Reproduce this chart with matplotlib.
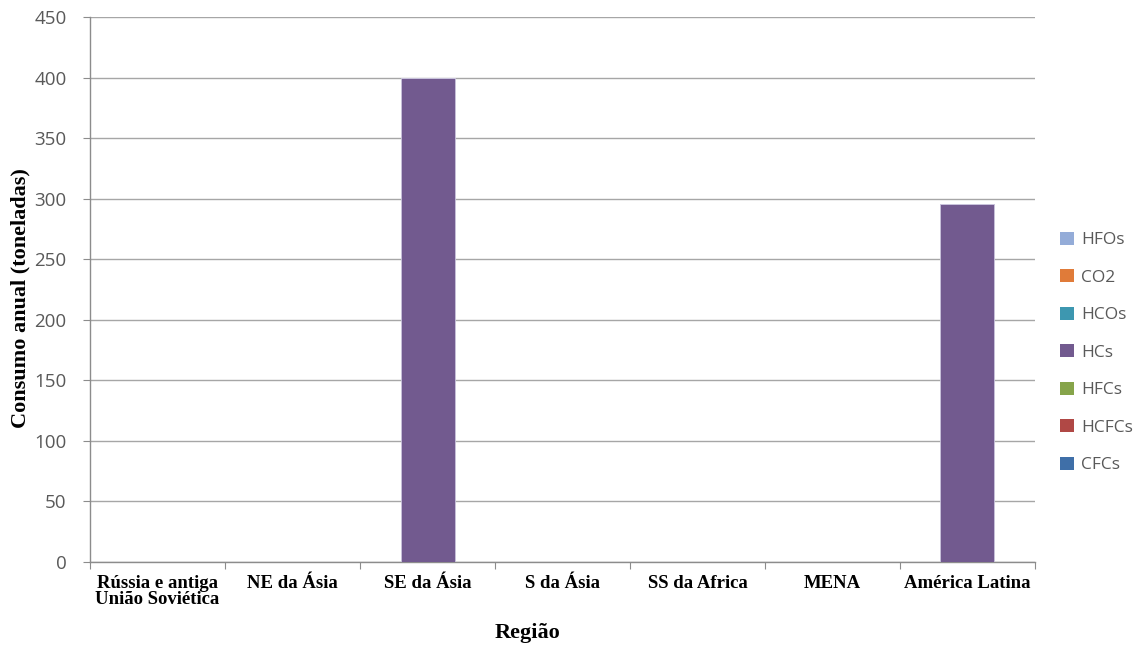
import numpy as np
import matplotlib.pyplot as plt
from matplotlib.patches import Patch

# Dados: consumo anual por região (toneladas)
regioes = ['Rússia e antiga\nUnião Soviética', 'NE da Ásia', 'SE da Ásia', 'S da Ásia',
           'SS da Africa', 'MENA', 'América Latina']
series = ['CFCs', 'HCFCs', 'HFCs', 'HCs', 'HCOs', 'CO2', 'HFOs']
cores = ['#3f6fa8', '#b04845', '#86a44a', '#725a8f', '#3d97b0', '#e07b39', '#94acd8']

cfcs = [0, 0, 0, 0, 0, 0, 0]
hcfcs = [0, 0, 0, 0, 0, 0, 0]
hfcs = [0, 0, 0, 0, 0, 0, 0]
hcs = [0, 0, 400, 0, 0, 0, 296]
hcos = [0, 0, 0, 0, 0, 0, 0]
co2 = [0, 0, 0, 0, 0, 0, 0]
hfos = [0, 0, 0, 0, 0, 0, 0]
valores = [cfcs, hcfcs, hfcs, hcs, hcos, co2, hfos]

fig = plt.figure(figsize=(11.44, 6.49), dpi=100)
ax = fig.add_axes([0.0787, 0.134, 0.826, 0.8398])

x = np.arange(len(regioes))
base = np.zeros(len(regioes))
for nome, vals, cor in zip(series, valores, cores):
    v = np.array(vals, dtype=float)
    ax.bar(x, v, width=0.4, bottom=base, color=cor, edgecolor='#c9c3dc', linewidth=0.6, zorder=3)
    base += v

cor_eixo = '#8c8c8c'
ax.set_xlim(-0.5, len(regioes) - 0.5)
ax.set_ylim(0, 450)
ax.set_yticks(np.arange(0, 451, 50))
ax.grid(axis='y', color='#a6a6a6', linewidth=1.0, zorder=0)
for s in ['top', 'right']:
    ax.spines[s].set_visible(False)
for s in ['left', 'bottom']:
    ax.spines[s].set_color(cor_eixo)
    ax.spines[s].set_linewidth(1.0)

# ticks do eixo x entre categorias, rótulos no centro
ax.set_xticks(np.arange(-0.5, len(regioes), 1.0))
ax.set_xticklabels([])
ax.set_xticks(x, minor=True)
ax.set_xticklabels(regioes, minor=True, fontfamily='Liberation Serif', fontweight='bold',
                   fontsize=13.5, linespacing=0.95, va='top')
ax.tick_params(axis='x', which='major', direction='out', length=5, color=cor_eixo)
ax.tick_params(axis='x', which='minor', length=0, pad=9)
ax.tick_params(axis='y', direction='out', length=5, color=cor_eixo, labelsize=13.5,
               labelcolor='#595959', pad=12)
for lbl in ax.get_yticklabels():
    lbl.set_fontfamily('Open Sans')

fig.text(0.018, 0.54, 'Consumo anual (toneladas)', rotation=90, ha='center', va='center',
         fontfamily='Liberation Serif', fontweight='bold', fontsize=16)
fig.text(0.461, 0.024, 'Região', ha='center', va='center',
         fontfamily='Liberation Serif', fontweight='bold', fontsize=16)

handles = [Patch(facecolor=c, edgecolor='none', label=n) for n, c in zip(series, cores)]
leg = fig.legend(handles[::-1], series[::-1], loc='center left', bbox_to_anchor=(0.913, 0.457),
                 frameon=False, handlelength=0.8, handleheight=0.8, handletextpad=0.4,
                 labelspacing=1.2, prop={'family': 'Open Sans', 'size': 12.5})
for t in leg.get_texts():
    t.set_color('#595959')

fig.savefig('out.png', dpi=100)
